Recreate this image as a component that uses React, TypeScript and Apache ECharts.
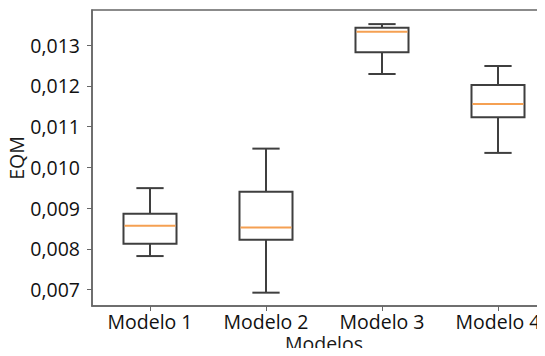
import React, { useEffect, useRef } from "react";
import * as echarts from "echarts";

const categories = ["Modelo 1", "Modelo 2", "Modelo 3", "Modelo 4"];
const lowerWhisker = [0.007825, 0.006927, 0.01229, 0.010355];
const q1 = [0.008127, 0.008224, 0.012821, 0.011229];
const median = [0.008567, 0.008526, 0.013326, 0.011555];
const q3 = [0.008861, 0.009405, 0.013424, 0.01202];
const upperWhisker = [0.009491, 0.01046, 0.013514, 0.012486];
const yTicks = [0.007, 0.008, 0.009, 0.01, 0.011, 0.012, 0.013];
const titleText = "Diagrama de caixa do erro médio por modelo";

const FONT = "'Open Sans', sans-serif";
const AXIS_COLOR = "#666666";
const BOX_COLOR = "#3f3f3f";
const MEDIAN_COLOR = "#f5a052";

export default function App() {
  const ref = useRef<HTMLDivElement>(null);

  useEffect(() => {
    if (!ref.current) return;
    const chart = echarts.init(ref.current, null, { renderer: "svg" });
    const data = categories.map((_, i) => [
      i,
      lowerWhisker[i],
      q1[i],
      median[i],
      q3[i],
      upperWhisker[i],
    ]);

    chart.setOption({
      animation: false,
      backgroundColor: "#ffffff",
      textStyle: { fontFamily: FONT },
      grid: {
        left: 92,
        top: 10,
        right: -11,
        bottom: 50,
        containLabel: false,
        outerBoundsMode: "none",
        show: true,
        borderColor: AXIS_COLOR,
        borderWidth: 1.5,
        backgroundColor: "transparent",
      },
      graphic: [
        {
          type: "text",
          x: 65,
          y: -16,
          silent: true,
          style: {
            text: titleText,
            font: `bold 21px ${FONT}`,
            fill: "#111111",
            verticalAlign: "top",
          },
        },
      ],
      xAxis: {
        type: "category",
        data: categories,
        boundaryGap: true,
        name: "Modelos",
        nameLocation: "middle",
        nameGap: 27,
        nameMoveOverlap: false,
        nameTextStyle: { fontSize: 19.5, color: "#1a1a1a", fontFamily: FONT },
        axisLine: { show: true, lineStyle: { color: AXIS_COLOR, width: 1.5 } },
        axisTick: {
          show: true,
          alignWithLabel: true,
          length: 5,
          lineStyle: { color: AXIS_COLOR, width: 1 },
        },
        axisLabel: {
          interval: 0,
          fontSize: 19.5,
          color: "#111111",
          margin: 5,
          fontFamily: FONT,
        },
        splitLine: { show: false },
      },
      yAxis: {
        type: "value",
        min: 0.0066,
        max: 0.01386,
        name: "EQM",
        nameLocation: "middle",
        nameGap: 66,
        nameRotate: 90,
        nameMoveOverlap: false,
        nameTextStyle: { fontSize: 19.5, color: "#1a1a1a", fontFamily: FONT },
        axisLine: { show: true, lineStyle: { color: AXIS_COLOR, width: 1.5 } },
        axisTick: {
          show: true,
          length: 5,
          customValues: yTicks,
          lineStyle: { color: AXIS_COLOR, width: 1 },
        },
        axisLabel: {
          fontSize: 19.5,
          color: "#111111",
          margin: 12,
          fontFamily: FONT,
          customValues: yTicks,
          formatter: (v: number) => v.toFixed(3).replace(".", ","),
        },
        splitLine: { show: false },
      },
      series: [
        {
          type: "custom",
          data,
          encode: { x: 0, y: [1, 2, 3, 4, 5] },
          renderItem: (params: any, api: any) => {
            const idx = api.value(0);
            const lo = api.coord([idx, api.value(1)]);
            const b1 = api.coord([idx, api.value(2)]);
            const md = api.coord([idx, api.value(3)]);
            const b3 = api.coord([idx, api.value(4)]);
            const hi = api.coord([idx, api.value(5)]);
            const band = api.size([1, 0])[0];
            const boxW = band * 0.457;
            const capW = band * 0.235;
            const cx = lo[0];
            const lineStyle = { stroke: BOX_COLOR, lineWidth: 2 };
            return {
              type: "group",
              children: [
                {
                  type: "line",
                  shape: { x1: cx, y1: lo[1], x2: cx, y2: b1[1] },
                  style: lineStyle,
                },
                {
                  type: "line",
                  shape: { x1: cx, y1: b3[1], x2: cx, y2: hi[1] },
                  style: lineStyle,
                },
                {
                  type: "line",
                  shape: { x1: cx - capW / 2, y1: lo[1], x2: cx + capW / 2, y2: lo[1] },
                  style: lineStyle,
                },
                {
                  type: "line",
                  shape: { x1: cx - capW / 2, y1: hi[1], x2: cx + capW / 2, y2: hi[1] },
                  style: lineStyle,
                },
                {
                  type: "rect",
                  shape: { x: cx - boxW / 2, y: b3[1], width: boxW, height: b1[1] - b3[1] },
                  style: { fill: "#ffffff", stroke: BOX_COLOR, lineWidth: 2 },
                },
                {
                  type: "line",
                  shape: { x1: cx - boxW / 2 + 1, y1: md[1], x2: cx + boxW / 2 - 1, y2: md[1] },
                  style: { stroke: MEDIAN_COLOR, lineWidth: 2 },
                },
              ],
            };
          },
        },
      ],
    });

    return () => {
      chart.dispose();
    };
  }, []);

  return <div ref={ref} style={{ width: 545, height: 356, margin: -8 }} />;
}
